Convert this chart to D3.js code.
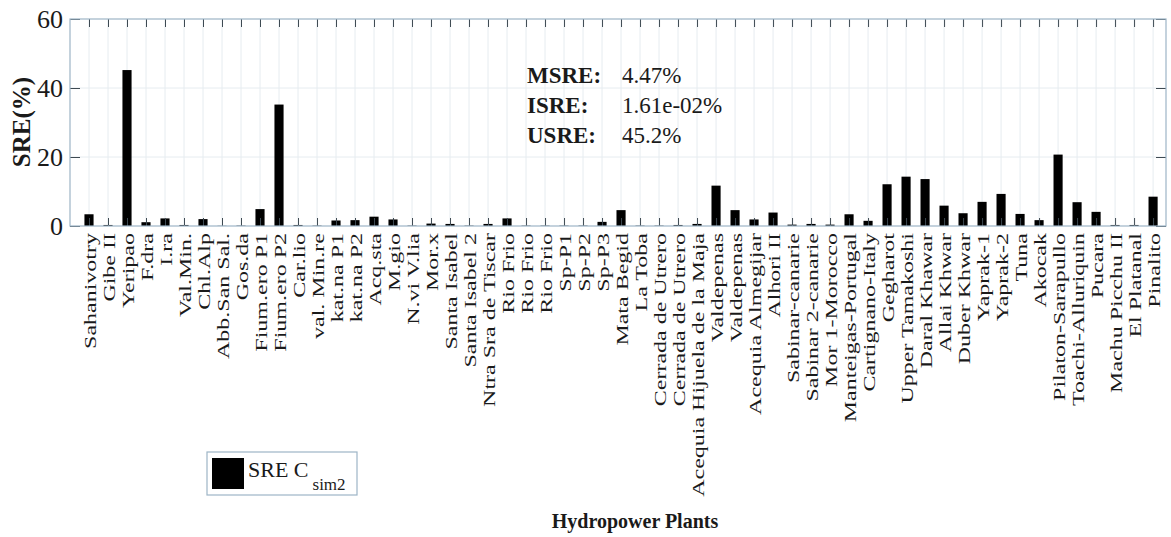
<!DOCTYPE html>
<html>
<head>
<meta charset="utf-8">
<script src="https://cdn.jsdelivr.net/npm/d3@7"></script>
<style>
  body { margin: 0; background: #fff; }
  svg text { font-family: "Liberation Serif", "Times New Roman", serif; fill: #1a1a1a; }
</style>
</head>
<body>
<div id="chart"></div>
<script>
const plants = ["Sahanivotry", "Gibe II", "Yeripao", "F.dra", "I.ra", "Val.Min.", "Chl.Alp",
  "Abb.San Sal.", "Gos.da", "Fium.ero P1", "Fium.ero P2", "Car.lio", "val. Min.re", "kat.na P1",
  "kat.na P2", "Acq.sta", "M.gio", "N.vi V.lia", "Mor.x", "Santa Isabel", "Santa Isabel 2",
  "Ntra Sra de Tiscar", "Rio Frio", "Rio Frio", "Rio Frio", "Sp-P1", "Sp-P2", "Sp-P3",
  "Mata Begid", "La Toba", "Cerrada de Utrero", "Cerrada de Utrero", "Acequia Hijuela de la Maja",
  "Valdepenas", "Valdepenas", "Acequia Almegijar", "Alhori II", "Sabinar-canarie",
  "Sabinar 2-canarie", "Mor 1-Morocco", "Manteigas-Portugal", "Cartignano-Italy", "Gegharot",
  "Upper Tamakoshi", "Daral Khawar", "Allai Khwar", "Duber Khwar", "Yaprak-1", "Yaprak-2",
  "Tuna", "Akocak", "Pilaton-Sarapullo", "Toachi-Alluriquin", "Pucara", "Machu Picchu II",
  "El Platanal", "Pinalito"];

const sre = [3.4, 0.3, 45.2, 1.1, 2.2, 0.3, 2.0, 0.05, 0.1, 4.9, 35.2, 0.3, 0.1, 1.6,
  1.7, 2.7, 1.9, 0.1, 0.7, 0.6, 0.1, 0.6, 2.2, 0.1, 0.1, 0.1, 0.1, 1.2,
  4.6, 0.1, 0.1, 0.3, 0.6, 11.7, 4.6, 1.9, 3.9, 0.4, 0.6, 0.4, 3.4, 1.5,
  12.1, 14.3, 13.6, 5.9, 3.7, 7.0, 9.3, 3.5, 1.7, 20.7, 6.9, 4.1, 0.3, 0.3, 8.5];

const yTicks = [0, 20, 40, 60];
const statNames = ["MSRE:", "ISRE:", "USRE:"];
const statValues = ["4.47%", "1.61e-02%", "45.2%"];

const width = 1171, height = 537;
const mLeft = 70, mRight = 1166, mTop = 19, mBottom = 226;
const axisColor = "#9db5c6";
const serif = "'Liberation Serif', 'Times New Roman', serif";

const svg = d3.select("#chart").append("svg")
  .attr("width", width)
  .attr("height", height)
  .attr("font-family", serif);

const x = d3.scaleLinear().domain([0, 57.68]).range([mLeft, mRight]);
const y = d3.scaleLinear().domain([0, 60]).range([mBottom, mTop]);
const idx = d3.range(1, plants.length + 1);

// grid
svg.append("g").selectAll("line")
  .data(idx).enter().append("line")
  .attr("x1", d => x(d)).attr("x2", d => x(d))
  .attr("y1", mTop).attr("y2", mBottom)
  .attr("stroke", "#e6ecf0").attr("stroke-width", 1);
svg.append("g").selectAll("line")
  .data([20, 40]).enter().append("line")
  .attr("x1", mLeft).attr("x2", mRight)
  .attr("y1", d => y(d)).attr("y2", d => y(d))
  .attr("stroke", "#e6ecf0").attr("stroke-width", 1);

// bars
const barW = x(0.48) - x(0);
svg.append("g").selectAll("rect")
  .data(sre).enter().append("rect")
  .attr("x", (d, i) => x(i + 1) - barW / 2)
  .attr("y", d => y(d))
  .attr("width", barW)
  .attr("height", d => y(0) - y(d))
  .attr("fill", "#000");

// axes
const yAxis = d3.axisLeft(y).tickValues(yTicks).tickSizeInner(-10).tickSizeOuter(0).tickPadding(7);
const gy = svg.append("g").attr("transform", "translate(" + mLeft + ",0)").call(yAxis);
gy.attr("font-family", serif);
gy.selectAll("text").style("font-size", "26px").attr("fill", "#1a1a1a");

const yRight = d3.axisRight(y).tickValues(yTicks).tickSizeInner(-10).tickSizeOuter(0).tickFormat("");
svg.append("g").attr("transform", "translate(" + mRight + ",0)").call(yRight);

const xTop = d3.axisTop(x).tickValues(idx).tickSizeInner(-8).tickSizeOuter(0).tickFormat("");
svg.append("g").attr("transform", "translate(0," + mTop + ")").call(xTop);

const xAxis = d3.axisBottom(x).tickValues(idx).tickSizeInner(-8).tickSizeOuter(0)
  .tickFormat(d => plants[d - 1]);
const gx = svg.append("g").attr("transform", "translate(0," + mBottom + ")").call(xAxis);
gx.attr("font-family", serif);
gx.selectAll("text")
  .attr("transform", "rotate(-90) scale(1,0.72)")
  .attr("x", -7).attr("y", 0).attr("dy", "0.35em")
  .style("text-anchor", "end")
  .style("font-size", "24px");

svg.selectAll(".domain").remove();
svg.selectAll(".tick line").attr("stroke", "#3e4a52");

svg.append("rect")
  .attr("x", mLeft).attr("y", mTop)
  .attr("width", mRight - mLeft).attr("height", mBottom - mTop)
  .attr("fill", "none").attr("stroke", axisColor).attr("stroke-width", 1.2);

// axis titles
svg.append("text")
  .attr("transform", "translate(30,122) rotate(-90)")
  .attr("text-anchor", "middle")
  .style("font-size", "25px").style("font-weight", "bold")
  .text("SRE(%)");

svg.append("text")
  .attr("x", 635).attr("y", 528)
  .attr("text-anchor", "middle")
  .style("font-size", "20px").style("font-weight", "bold")
  .text("Hydropower Plants");

// stats
statNames.forEach((s, i) => {
  svg.append("text").attr("x", 527).attr("y", 83 + i * 30)
    .style("font-size", "23px").style("font-weight", "bold").text(s);
  svg.append("text").attr("x", 622).attr("y", 83 + i * 30)
    .style("font-size", "23px").text(statValues[i]);
});

// legend
const lg = svg.append("g");
lg.append("rect").attr("x", 207).attr("y", 452).attr("width", 150).attr("height", 43)
  .attr("fill", "#fff").attr("stroke", axisColor).attr("stroke-width", 1.2);
lg.append("rect").attr("x", 212).attr("y", 458).attr("width", 32).attr("height", 31).attr("fill", "#000");
const lt = lg.append("text").attr("x", 248).attr("y", 477).style("font-size", "22px");
lt.append("tspan").text("SRE C");
lt.append("tspan").attr("dx", 4).attr("dy", 13).style("font-size", "17px").text("sim2");
</script>
</body>
</html>
